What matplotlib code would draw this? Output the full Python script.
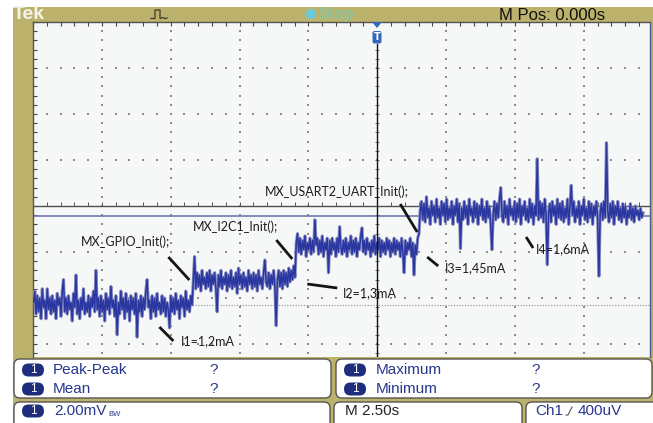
import numpy as np
import matplotlib
matplotlib.use("Agg")
import matplotlib.pyplot as plt
from matplotlib.patches import FancyBboxPatch, Rectangle, Circle, Polygon
from matplotlib.transforms import Affine2D
from matplotlib.lines import Line2D

# ---------------- data ----------------
# segment boundaries (s) of the acquisition (2.5 s/div, trigger at 0 s)
step_times_s = [-12.48, -6.68, -2.94, 1.56, 9.65]
# displayed voltage samples (mV, 2 mV/div) for each init phase
seg1_mv = [-4.2, -3.7, -4.7, -3.9, -4.6, -4.0, -4.9, -3.6, -4.4, -4.1, -4.9, -3.6, -4.5, -4.0, -4.7, -3.9,
           -4.6, -4.1, -4.9, -3.8, -4.3, -4.0, -4.8, -3.7, -3.2, -4.6, -4.0, -4.7, -3.9, -4.5, -4.2, -5.0,
           -3.8, -4.4, -3.0, -4.7, -4.1, -4.9, -4.0, -4.5, -3.6, -4.7, -4.2, -4.6, -3.9, -4.8, -4.0, -4.4,
           -3.7, -4.6, -2.8, -4.5, -4.0, -4.8, -3.9, -4.6, -4.1, -5.0, -3.8, -4.5, -4.0, -4.7, -3.5, -4.4,
           -4.1, -4.8, -3.9, -5.6, -4.2, -4.7, -3.7, -4.5, -4.0, -4.9, -3.8, -4.6, -4.1, -5.0, -3.9, -4.5,
           -4.0, -4.7, -3.8, -5.7, -4.1, -4.6, -3.9, -4.8, -4.0, -4.5, -3.7, -3.2, -4.4, -4.1, -4.9, -3.9,
           -4.6, -4.0, -4.8, -3.8, -4.5, -4.2, -4.7, -3.9, -4.6, -4.0, -4.8, -4.2, -4.5, -5.3, -3.9, -4.6,
           -4.0, -4.7, -3.8, -4.5, -4.1, -4.9, -3.9, -4.4, -4.0, -4.8, -3.7, -4.5, -4.1, -4.6, -3.9, -4.3]
seg2_mv = [-3.3, -2.2, -3.6, -2.9, -3.5, -3.0, -3.7, -2.8, -3.4, -3.1, -3.6, -2.9, -3.5, -2.8, -3.7, -3.0,
           -3.4, -2.9, -3.6, -4.6, -3.0, -3.5, -2.8, -3.6, -3.1, -3.4, -2.9, -3.7, -3.0, -3.5, -2.8, -3.6,
           -3.1, -3.5, -2.9, -3.8, -2.7, -3.4, -3.0, -3.6, -2.9, -3.5, -3.1, -3.7, -2.8, -3.4, -3.0, -3.6,
           -2.9, -3.5, -3.0, -3.7, -2.8, -3.4, -3.1, -3.6, -2.9, -2.35, -3.3, -3.5, -2.9, -3.6, -3.0, -3.4,
           -2.8, -3.5, -5.2, -3.2, -2.8, -3.5, -2.9, -3.6, -2.8, -3.4, -2.9, -3.5, -2.7, -3.3, -2.8, -3.2,
           -2.6, -3.1]
seg3_mv = [-1.6, -1.2, -2.0, -1.4, -2.1, -1.5, -1.9, -1.3, -2.2, -1.6, -1.9, -1.4, -2.1, -1.5, -2.0, -0.6,
           -1.7, -1.4, -2.1, -1.5, -2.0, -1.3, -2.2, -1.6, -1.9, -1.4, -2.9, -1.5, -2.1, -1.4, -1.9, -1.6,
           -2.2, -1.4, -2.0, -0.9, -1.8, -2.1, -1.5, -2.0, -1.4, -2.2, -1.6, -1.9, -1.3, -2.1, -1.5, -2.0,
           -1.4, -2.2, -1.6, -1.9, -1.3, -0.95, -2.0, -1.5, -2.1, -1.4, -1.9, -1.6, -2.2, -1.5, -2.0, -1.3,
           -2.1, -1.6, -1.9, -1.4, -2.2, -1.5, -2.0, -1.6, -2.1, -1.4, -1.9, -1.5, -2.2, -1.6, -2.0, -1.4,
           -2.1, -1.5, -1.9, -1.6, -2.2, -1.4, -2.0, -2.9, -1.5, -2.1, -1.6, -1.9, -1.4, -2.2, -1.6, -3.0,
           -1.7, -2.1, -1.4, -1.2]
seg4_mv = [-0.2, 0.2, -0.6, 0.1, -0.7, 0.4, -0.5, -0.1, -0.8, 0.2, -0.4, 0.0, -0.7, 0.3, -0.5, -0.1,
           -0.8, 0.2, -0.4, 0.1, -0.7, 0.3, -0.6, -0.1, -0.5, 0.2, -0.8, 0.0, -0.4, 0.3, -0.7, 0.1,
           -1.85, -0.1, -0.6, 0.2, -0.5, 0.0, -0.8, 0.3, -0.4, -0.1, -0.7, 0.2, -0.5, 0.1, -0.8, 0.0,
           -0.4, 0.3, -0.6, -0.1, -0.7, 0.2, -0.5, 0.0, -0.8, -1.9, -0.4, 0.2, -0.6, 0.1, -0.5, 0.3,
           0.8, -0.4, -0.7, 0.2, -0.5, 0.0, -0.8, 0.3, -0.4, -0.1, -0.6, 0.2, -0.7, 0.1, -0.5, 0.3,
           -0.8, 0.0, -0.4, 0.2, -0.6, -0.1, -0.7, 0.3, -0.5, 0.1, -0.8, 0.0, -0.4, 2.05, -0.6, 0.2,
           -0.5, 0.1, -0.7, 0.3, -0.4, -2.55, -0.3, 0.1, -0.7, 0.2, -0.4, 0.0, -0.8, 0.3, -0.5, 0.1,
           -0.6, 0.2, -0.7, -0.1, -0.5, 0.3, -0.8, 0.0, 0.9, -0.4, 0.2, -0.7, -0.1, -0.5, 0.2, -0.8,
           0.0, -0.4, 0.3, -0.6, -0.1, -0.7, 0.2, -0.5, 0.1, -0.8, 0.0, -0.4, 0.2, -0.6, -3.05, -0.3,
           0.1, -0.6, 0.2, -0.5, 2.75, -0.2, -0.7, 0.1, -0.5, 0.2, -0.8, 0.0, -0.4, 0.2, -0.6, -0.1,
           -0.7, 0.1, -0.5, 0.0, -0.8, -0.2, -0.5, 0.1, -0.6, -0.1, -0.7, 0.0, -0.4, -0.2, -0.6, -0.1,
           -0.5, -0.3]
segments_mv = [seg1_mv, seg2_mv, seg3_mv, seg4_mv]

center_line_mv = 0.0
level_line_mv = -0.43
ref_line_mv = -4.3

annot_labels = ["MX_GPIO_Init();", "MX_I2C1_Init();", "MX_USART2_UART_Init();",
                "I1=1,2mA", "I2=1,3mA", "I3=1,45mA", "I4=1,6mA"]
meas_left = [("Peak-Peak", "?"), ("Mean", "?")]
meas_right = [("Maximum", "?"), ("Minimum", "?")]
status_texts = ["2.00mV", "M 2.50s", "Ch1", "400uV"]
top_texts = ["Tek", "Stop", "M Pos: 0.000s"]

# ---------------- layout ----------------
W, H = 653, 423
OLIVE = "#BDB26B"
NAVY = "#27378C"
BG = "#F6F8F8"

fig = plt.figure(figsize=(W / 100, H / 100), dpi=100)
fig.patch.set_facecolor("white")
PX = Affine2D().scale(1 / W, -1 / H).translate(0, 1) + fig.transFigure

fig.patches.append(Rectangle((13, 7), 640, 416, transform=PX, facecolor=OLIVE,
                             edgecolor="none", zorder=0))

# plot area (pixel 33..650 x 22..357)
ax = fig.add_axes([33 / W, 1 - 357 / H, 617 / W, 335 / H], zorder=1)
ax.set_facecolor(BG)
X0, X1 = -12.48, 9.905
Y0, Y1 = -6.565, 8.0
ax.set_xlim(X0, X1)
ax.set_ylim(Y0, Y1)

def px2t(px):
    return (px - 377) / 68.9 * 2.5

def py2mv(py):
    return (206 - py) / 46 * 2

ax.spines["bottom"].set_visible(False)
ax.spines["top"].set_color("#555555")
ax.spines["left"].set_color("#555555")
ax.spines["right"].set_color("#4A5A86")
for s in ["top", "left", "right"]:
    ax.spines[s].set_linewidth(1.0)

ax.set_xticks(np.arange(-12.5, 10.0, 0.5))
ax.set_yticks(np.arange(-6.4, 8.01, 0.4))
ax.tick_params(axis="x", direction="in", length=3, width=0.8, color="#444444",
               top=True, bottom=False, labelbottom=False, labeltop=False)
ax.tick_params(axis="y", direction="in", length=3, width=0.8, color="#444444",
               left=True, right=False, labelleft=False)

# dotted graticule
dot_kw = dict(s=1.3, color="#8C8C8C", marker="s", linewidths=0, zorder=1)
ys_dots = np.arange(-6.4, 8.01, 0.4)
for k in [-4, -3, -2, -1, 1, 2, 3]:
    ax.scatter(np.full(len(ys_dots), k * 2.5), ys_dots, **dot_kw)
xs_dots = np.arange(-12.5, 10.0, 0.5)
for m in [-6, -4, -2, 2, 4, 6]:
    ax.scatter(xs_dots, np.full(len(xs_dots), m), **dot_kw)

# reference (densely dotted) line
ax.plot([X0, X1], [ref_line_mv, ref_line_mv], color="#8E8E8E", lw=0.8,
        linestyle=(0, (1, 1.5)), zorder=1)

# centre horizontal line with ticks + level line
ax.axhline(center_line_mv, color="#4E4E4E", lw=1.0, zorder=2)
ax.scatter(xs_dots, np.full(len(xs_dots), center_line_mv + 0.07), marker="|",
           s=8, color="#555555", linewidths=0.7, zorder=2)
ax.axhline(level_line_mv, color="#6E78B2", lw=1.2, zorder=2)

# centre vertical line (trigger position)
ax.plot([0, 0], [py2mv(44), Y0], color="#111111", lw=1.0, zorder=4)
ax.scatter(np.full(len(ys_dots), 0.0), ys_dots, marker="_", s=8,
           color="#666666", linewidths=0.7, zorder=2)

# trace
t_all, v_all = [], []
for i, seg in enumerate(segments_mv):
    last = i == len(segments_mv) - 1
    t_all.append(np.linspace(step_times_s[i], step_times_s[i + 1], len(seg),
                             endpoint=last))
    v_all.append(np.asarray(seg))
t_all = np.concatenate(t_all)
v_all = np.concatenate(v_all)
ax.plot(t_all, v_all, color="#8E91C4", lw=2.3, zorder=3)
ax.plot(t_all, v_all, color="#2A37A0", lw=1.1, zorder=3)

# annotations (pixel layout)
annot_text_pos = [(80, 242), (193, 227), (265, 192), (180, 341),
                  (343, 293), (445, 268), (536, 249)]
annot_lines = [((168, 257), (189, 280)), ((276, 240), (292, 259)),
               ((400, 204), (417, 232)), ((159, 327), (173, 341)),
               ((307, 284), (337, 288)), ((427, 257), (438, 266)),
               ((526, 237), (533, 248))]
for lab, (tx, ty) in zip(annot_labels, annot_text_pos):
    ax.text(px2t(tx), py2mv(ty), lab, fontsize=9, family="Lato",
            color="#1E1E1E", ha="left", va="center", zorder=5)
for (a, b) in annot_lines:
    ax.plot([px2t(a[0]), px2t(b[0])], [py2mv(a[1]), py2mv(b[1])],
            color="#151515", lw=2.0, solid_capstyle="butt", zorder=5)

# ---------------- top bar ----------------
fig.text(13 / W, 1 - 14.5 / H, top_texts[0], fontsize=14, fontweight="bold",
         color="#F4F4EE", family="Liberation Sans", va="center", ha="left")
fig.lines.append(Line2D([151, 155, 155, 160, 160, 163, 165, 167],
                        [18.5, 18.5, 10, 10, 18.5, 17.5, 18.5, 18],
                        transform=PX, color="#3A3A30", lw=0.9))
fig.patches.append(Circle((311, 14), 5.2, transform=PX, facecolor="#6CCAD8",
                          edgecolor="none", zorder=3))
fig.text(319 / W, 1 - 15 / H, top_texts[1], fontsize=11.5, fontweight="bold",
         color="#78CDB8", alpha=0.7, family="Liberation Sans", va="center", ha="left")
fig.text(499 / W, 1 - 15 / H, top_texts[2], fontsize=12, color="#111111",
         family="Liberation Sans", va="center", ha="left")

# trigger marker
fig.patches.append(Polygon([(372, 22), (382, 22), (377, 28)], closed=True,
                           transform=PX, facecolor="#3568B8", edgecolor="none",
                           zorder=6))
fig.patches.append(FancyBboxPatch((372.5, 31), 9, 12.5, boxstyle="round,pad=0,rounding_size=2",
                                  transform=PX, facecolor="#3568B8",
                                  edgecolor="none", zorder=6))
fig.text(377 / W, 1 - 37 / H, "T", fontsize=7, color="white", fontweight="bold",
         ha="center", va="center", zorder=7)

# ---------------- measurement panels ----------------
def box(x, y, w, h, r=6):
    fig.patches.append(FancyBboxPatch((x, y), w, h,
                                      boxstyle=f"round,pad=0,rounding_size={r}",
                                      transform=PX, facecolor="white",
                                      edgecolor="#555555", lw=1.0, zorder=5))

def badge(cx, cy):
    fig.patches.append(FancyBboxPatch((cx - 11, cy - 6.5), 22, 13,
                                      boxstyle="round,pad=0,rounding_size=6.5",
                                      transform=PX, facecolor="#1F2E7C",
                                      edgecolor="none", zorder=6))
    fig.text(cx / W, 1 - cy / H, "1", fontsize=8.5, color="white",
             family="Liberation Sans", ha="center", va="center", zorder=7)

box(14, 359, 317, 39)
box(336, 359, 316, 39)
box(14, 402, 316, 30)
box(334, 402, 188, 30)
box(526, 402, 140, 30)

meas_font = dict(fontsize=11, family="Liberation Sans", color=NAVY,
                 va="center", ha="left", zorder=7)
for row, (name, val) in enumerate(meas_left):
    cy = 370 + 19 * row
    badge(33, cy)
    fig.text(53 / W, 1 - cy / H, name, **meas_font)
    fig.text(209 / W, 1 - cy / H, val, **meas_font)
for row, (name, val) in enumerate(meas_right):
    cy = 370 + 19 * row
    badge(355, cy)
    fig.text(376 / W, 1 - cy / H, name, **meas_font)
    fig.text(531 / W, 1 - cy / H, val, **meas_font)

badge(33, 411)
fig.text(54 / W, 1 - 411 / H, status_texts[0], **meas_font)
fig.text(108 / W, 1 - 414 / H, "BW", fontsize=5.5, family="Liberation Sans",
         color=NAVY, va="center", ha="left", zorder=7)
fig.text(345 / W, 1 - 411 / H, status_texts[1], fontsize=11,
         family="Liberation Sans", color="#222222", va="center", ha="left", zorder=7)
fig.text(535 / W, 1 - 411 / H, status_texts[2], **meas_font)
fig.lines.append(Line2D([566, 568, 572], [415, 415, 407], transform=PX,
                        color="#555555", lw=0.8, zorder=7))
fig.text(578 / W, 1 - 411 / H, status_texts[3], **meas_font)

fig.savefig("out.png", dpi=100)
